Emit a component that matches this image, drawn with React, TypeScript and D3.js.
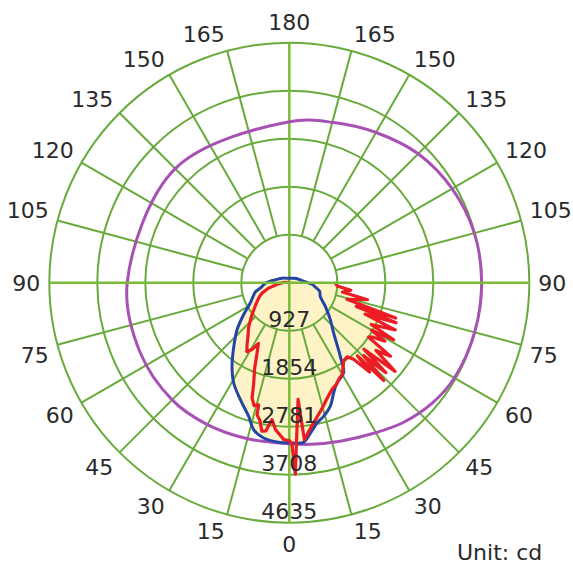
import React from 'react';
import * as d3 from 'd3';

const WIDTH = 573;
const HEIGHT = 565;
const CX = 289.3;
const CY = 282.7;
const R = 240;

const ringValues = [927, 1854, 2781, 3708, 4635];
const angleTicks = [0, 15, 30, 45, 60, 75, 90, 105, 120, 135, 150, 165, 180];

// [gamma (deg, 0 = down), intensity (cd)]
const blueLeft: [number, number][] = [
  [0, 3090], [3.2, 3090], [9.4, 3040], [13.6, 2922], [16.9, 2698], [22.7, 2449],
  [29, 2215], [34.4, 1958], [41, 1634], [48, 1358], [55, 1078], [62.5, 850],
  [75, 676], [80, 560], [88.6, 463], [101, 282], [130, 140], [150, 97],
];
const blueRight: [number, number][] = [
  [1.5, 3098], [5.1, 3096], [8, 2932], [11.2, 2762], [14.4, 2665], [18.3, 2516],
  [21.9, 2296], [25.4, 2144], [31, 2036], [34.7, 1730], [41.4, 1294], [48, 1066],
  [56.7, 832], [66, 655], [74, 610], [81, 502], [86, 440], [93.6, 303], [120, 160], [151, 97],
];
const redLeft: [number, number][] = [
  [0, 3051], [2, 3032], [5.4, 2849], [7.2, 2665], [9, 2897], [10.5, 2916], [12, 2723],
  [13.7, 2627], [14.1, 2433], [16, 2472], [17.9, 2337], [19.3, 2086], [22.1, 1777],
  [24.5, 1506], [27, 1313], [29, 1468], [31.6, 1564], [34.3, 1448], [38, 1294],
  [41.9, 1178], [45.5, 1062], [49.4, 946], [55, 811], [60, 715], [65, 637],
  [69.3, 560], [75, 425], [85, 200], [95, 100], [110, 0],
];
const redRight: [number, number][] = [
  [0.9, 3100], [1.8, 3700], [4.3, 2260], [5.5, 3050], [7.4, 2897], [10, 2740],
  [12.5, 2607], [15, 2491], [17.5, 2375], [20, 2279], [22.5, 2202], [25, 2163],
  [27.5, 2086], [30, 2047], [32.5, 1931], [35, 1835], [38, 1815], [40, 1931],
  [42, 2318], [43, 1931], [44, 2627], [45.5, 2009], [47, 2549], [48.3, 1931],
  [50, 2665], [52, 2124], [54, 2414], [55.5, 1854], [57, 1931], [58.5, 2163],
  [60, 1835], [61.3, 2298], [63, 1777], [66, 2240], [67.5, 1584], [69.5, 2202],
  [70.5, 1371], [71.6, 2163], [74, 1159], [77.7, 1545], [80, 1043], [83, 1197],
  [86, 927], [90, 888],
];
const magentaLeft: [number, number][] = [
  [0, 3110], [15, 3120], [30, 3165], [45, 3200], [65, 3180], [90, 3130], [135, 3115], [180, 3110],
];
const magentaRight: [number, number][] = [
  [7.5, 3148], [17.8, 3215], [29, 3330], [39, 3480], [50, 3610], [60, 3680], [75, 3705],
  [90, 3715], [105, 3700], [120, 3630], [135, 3520], [150, 3350], [164.5, 3210],
];

const GRID = '#68aa3c';
const AXIS = '#7cbb3a';
const TEXT = '#2a2a2a';
const FILL = '#fdf3c6';
const FONT = '"DejaVu Sans", Verdana, sans-serif';

const r = d3.scaleLinear().domain([0, 4635]).range([0, R]);
const rad = (deg: number) => (deg * Math.PI) / 180;

// left side: gamma descending (top -> bottom), right side: ascending (bottom -> top)
const toPolar = (left: [number, number][], right: [number, number][]) => [
  ...[...left].reverse().map(([g, v]) => [Math.PI + rad(g), r(v)] as [number, number]),
  ...right.map(([g, v]) => [Math.PI - rad(g), r(v)] as [number, number]),
];

const App: React.FC = () => {
  const linear = d3.lineRadial<[number, number]>().angle(d => d[0]).radius(d => d[1]);
  const smooth = d3.lineRadial<[number, number]>().angle(d => d[0]).radius(d => d[1]).curve(d3.curveCatmullRom);
  const smoothClosed = d3.lineRadial<[number, number]>().angle(d => d[0]).radius(d => d[1]).curve(d3.curveCatmullRomClosed);

  const bluePts = toPolar(blueLeft, blueRight);
  const redPts = toPolar(redLeft, redRight);
  const magentaPts = toPolar(magentaLeft, magentaRight);
  // red outline: right side from 90 down to 0, then left side up to the center
  const redStrokePts = [
    ...[...redRight].reverse().map(([g, v]) => [Math.PI - rad(g), r(v)] as [number, number]),
    ...redLeft.map(([g, v]) => [Math.PI + rad(g), r(v)] as [number, number]),
  ];

  const bluePath = smooth(bluePts) + 'Z';
  const redFill = linear(redPts) + 'Z';
  const redStroke = linear(redStrokePts) || '';
  const magentaPath = smoothClosed(magentaPts) || '';

  const spokes = angleTicks.filter(a => a % 90 !== 0);

  const labels: { x: number; y: number; anchor: string; text: string }[] = [];
  angleTicks.forEach(g => {
    const sides = g === 0 || g === 180 ? [1] : [-1, 1];
    sides.forEach(side => {
      const sx = side * Math.sin(rad(g));
      const sy = Math.cos(rad(g));
      const rl = g === 0 || g === 180 ? 253 : 249;
      const px = CX + rl * sx;
      const py = CY + rl * sy;
      const anchor = Math.abs(sx) < 0.01 ? 'middle' : sx < 0 ? 'end' : 'start';
      const y = sy < -0.01 ? py : sy > 0.01 ? py + 16 : py + 8;
      labels.push({ x: px, y, anchor, text: String(g) });
    });
  });

  return (
    <svg width={WIDTH} height={HEIGHT} style={{ position: 'absolute', left: 0, top: 0, background: '#fff' }}>
      <g transform={`translate(${CX},${CY})`}>
        <path d={bluePath} fill={FILL} />
        <path d={redFill} fill={FILL} />
        {ringValues.map(v => (
          <circle key={v} r={r(v)} fill="none" stroke={GRID} strokeWidth={2} />
        ))}
        {spokes.flatMap(g =>
          [-1, 1].map(side => (
            <line
              key={`${g}-${side}`}
              x1={side * r(927) * Math.sin(rad(g))}
              y1={r(927) * Math.cos(rad(g))}
              x2={side * R * Math.sin(rad(g))}
              y2={R * Math.cos(rad(g))}
              stroke={GRID}
              strokeWidth={2}
            />
          ))
        )}
        <line x1={0} y1={-R} x2={0} y2={R} stroke={AXIS} strokeWidth={2.5} />
        <path d={magentaPath} fill="none" stroke="#a851b5" strokeWidth={3} />
        <path d={bluePath} fill="none" stroke="#2444a6" strokeWidth={3} strokeLinejoin="round" />
        <path d={redStroke} fill="none" stroke="#ec1c24" strokeWidth={3.2} strokeLinejoin="round" />
        <line x1={-R} y1={0} x2={R} y2={0} stroke={AXIS} strokeWidth={2.5} />
        {ringValues.map(v => (
          <text key={v} x={0} y={r(v) - 4} textAnchor="middle" fontFamily={FONT} fontSize={22} fill={TEXT}>
            {v}
          </text>
        ))}
      </g>
      {labels.map((l, i) => (
        <text key={i} x={l.x} y={l.y} textAnchor={l.anchor} fontFamily={FONT} fontSize={22} fill={TEXT}>
          {l.text}
        </text>
      ))}
      <text x={457} y={560} fontFamily={FONT} fontSize={22} fill={TEXT}>
        Unit: cd
      </text>
    </svg>
  );
};

export default App;
